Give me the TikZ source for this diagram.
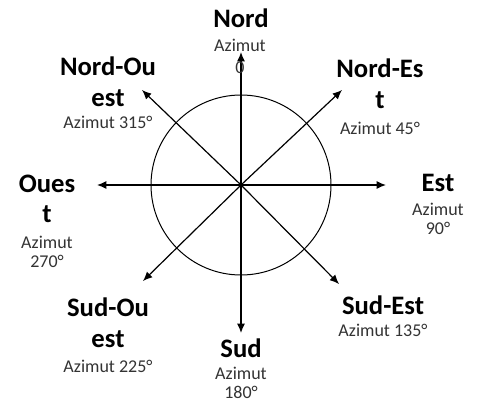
\documentclass[tikz,border=0pt]{standalone}
\usepackage{fontspec}
\setmainfont{Carlito}
\usetikzlibrary{arrows.meta, positioning}

\begin{document}
\begin{tikzpicture}[
    x=0.75pt, y=-0.75pt,
    dir/.style={font=\fontsize{20}{23}\selectfont\bfseries, align=center, inner sep=0pt},
    azi/.style={font=\fontsize{13.5}{14.5}\selectfont, text=black!80, align=center, inner sep=0pt},
    ray/.style={-{Latex[length=7pt,width=6pt]}, line width=0.9pt},
]
\useasboundingbox (0,0) rectangle (481,403);

% Rose circle
\node[circle, draw, line width=0.75pt, minimum size=135pt, inner sep=0pt] (rose) at (241,185) {};

% Arrow tips
\coordinate (tipN) at (241,52);
\coordinate (tipS) at (241,333);
\coordinate (tipE) at (386,185);
\coordinate (tipW) at (97,185);
\coordinate (tipNE) at (342,90);
\coordinate (tipNW) at (142,90);
\coordinate (tipSE) at (339,284);
\coordinate (tipSW) at (143,281);

% Arrows
\draw[ray] (rose.center) -- (tipN);
\draw[ray] (rose.center) -- (tipS);
\draw[ray] (rose.center) -- (tipE);
\draw[ray] (rose.center) -- (tipW);
\draw[ray] (rose.center) -- (tipNE);
\draw[ray] (rose.center) -- (tipNW);
\draw[ray] (rose.center) -- (tipSE);
\draw[ray] (rose.center) -- (tipSW);

% North
\node[dir] (nord) at (241,18) {Nord};
\node[azi] (nordAz) at (240,56) {Azimut\\[2pt]0};

% North-west
\node[dir] (nordOuest) at (108,82) {Nord-Ou\\est};
\node[azi] (nordOuestAz) at (108,122) {Azimut 315°};

% North-east
\node[dir] (nordEst) at (380,84) {Nord-Es\\t};
\node[azi] (nordEstAz) at (380,128) {Azimut 45°};

% West
\node[dir] (ouest) at (47,199) {Oues\\t};
\node[azi] (ouestAz) at (47,252) {Azimut\\270°};

% East
\node[dir] (est) at (438,183) {Est};
\node[azi] (estAz) at (438,219) {Azimut\\90°};

% South-west
\node[dir] (sudOuest) at (108,323) {Sud-Ou\\est};
\node[azi] (sudOuestAz) at (108,366) {Azimut 225°};

% South-east
\node[dir] (sudEst) at (383,305) {Sud-Est};
\node[azi] (sudEstAz) at (383,330) {Azimut 135°};

% South
\node[dir] (sud) at (241,348) {Sud};
\node[azi] (sudAz) at (241,383) {Azimut\\180°};

\end{tikzpicture}
\end{document}
